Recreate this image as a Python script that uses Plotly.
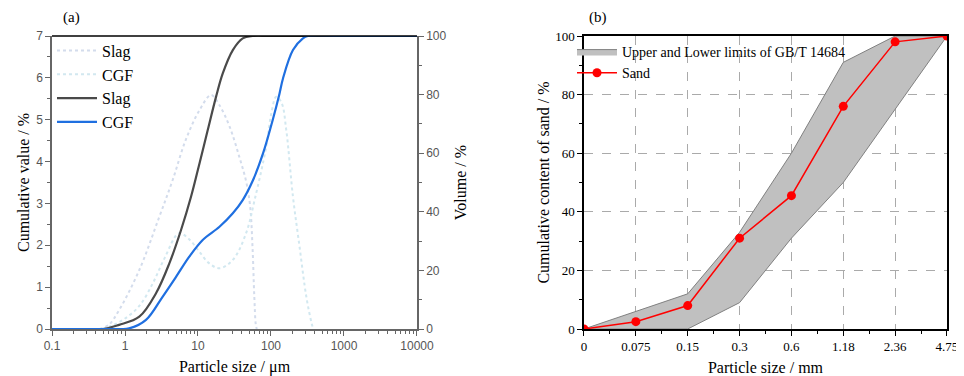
import plotly.graph_objects as go

# ---------------- Panel (a) data ----------------
slag_cum_size = [0.1, 0.5, 0.83, 1.57, 2.66, 4.05, 5.86, 8.04, 10.5, 13.6, 17.7, 21.9, 30, 41, 56, 100, 10000]
slag_cum_val = [0, 0, 1.4, 4.2, 12.2, 22.4, 33.8, 45.2, 56.6, 67.9, 79.3, 87.3, 95.2, 99.2, 100, 100, 100]

cgf_cum_size = [0.1, 0.8, 1.14, 1.94, 3.27, 5.0, 7.6, 11.6, 19.7, 30, 41, 56, 78, 106, 131, 146, 200, 274, 320, 1000, 10000]
cgf_cum_val = [0, 0, 0.2, 3.1, 11.0, 17.8, 24.7, 30.4, 34.9, 39.5, 44.0, 50.5, 60.0, 71.5, 80.4, 85.5, 95.2, 99.2, 100, 100, 100]

slag_dist_size = [0.45, 0.6, 0.83, 1.57, 2.95, 4.5, 6.8, 10.5, 15.1, 19.6, 26.9, 37, 46, 52, 56, 59, 62, 64]
slag_dist_val = [0, 0.1, 0.45, 1.41, 2.68, 3.56, 4.52, 5.23, 5.59, 5.35, 4.85, 4.1, 3.5, 2.9, 1.9, 0.8, 0.1, 0]

cgf_dist_size = [0.5, 0.7, 1.0, 1.57, 2.4, 3.5, 5.5, 7.5, 10.4, 14, 19.7, 30, 45.6, 60, 86, 101, 118, 140, 162, 200, 246, 305, 360, 380]
cgf_dist_val = [0, 0.1, 0.25, 0.55, 1.09, 1.7, 2.29, 2.15, 1.85, 1.58, 1.45, 1.65, 2.29, 3.1, 4.35, 5.15, 5.55, 5.4, 4.75, 3.16, 1.97, 0.77, 0.14, 0]

a_xtick_vals = [0.1, 1, 10, 100, 1000, 10000]
a_xtick_text = ["0.1", "1", "10", "100", "1000", "10000"]

# ---------------- Panel (b) data ----------------
sieve_labels = ["0", "0.075", "0.15", "0.3", "0.6", "1.18", "2.36", "4.75"]
upper_limit = [0, 6, 12, 33, 60, 91, 100, 100]
lower_limit = [0, 0, 0, 9, 31, 50, 75, 100]
sand_values = [0, 2.5, 8, 31, 45.5, 76, 98, 100]

pos = list(range(len(sieve_labels)))

SERIF = "Liberation Serif"
SANS = "Liberation Sans"
GRAY_AX = "#666666"

fig = go.Figure()

# Panel (a) distributions (left axis)
fig.add_trace(go.Scatter(x=slag_dist_size, y=slag_dist_val, mode="lines", name="Slag",
                         line=dict(color="#d3dcec", width=2, dash="dot"),
                         xaxis="x", yaxis="y", legend="legend", line_shape="spline"))
fig.add_trace(go.Scatter(x=cgf_dist_size, y=cgf_dist_val, mode="lines", name="CGF",
                         line=dict(color="#d2e8f0", width=2, dash="dot"),
                         xaxis="x", yaxis="y", legend="legend", line_shape="spline"))
# Panel (a) cumulative (right axis)
fig.add_trace(go.Scatter(x=slag_cum_size, y=slag_cum_val, mode="lines", name="Slag",
                         line=dict(color="#4a4a4a", width=2.2),
                         xaxis="x", yaxis="y2", legend="legend", line_shape="spline"))
fig.add_trace(go.Scatter(x=cgf_cum_size, y=cgf_cum_val, mode="lines", name="CGF",
                         line=dict(color="#1f6fe0", width=2.2),
                         xaxis="x", yaxis="y2", legend="legend", line_shape="spline"))

# Panel (b) band
band_x = pos + pos[::-1]
band_y = upper_limit + lower_limit[::-1]
fig.add_trace(go.Scatter(x=band_x, y=band_y, mode="lines", fill="toself",
                         fillcolor="#c0c0c0", line=dict(color="#808080", width=1),
                         name="Upper and Lower limits of GB/T 14684",
                         xaxis="x2", yaxis="y3", legend="legend2"))
fig.add_trace(go.Scatter(x=pos, y=sand_values, mode="lines+markers", name="Sand",
                         line=dict(color="#ff0000", width=1.5),
                         marker=dict(color="#ff0000", size=9),
                         xaxis="x2", yaxis="y3", legend="legend2"))

dom_a = [0, 0.4078]
dom_b = [0.5944, 1]

# page body has an 8px margin, so the figure is 8px smaller and offset
fig.update_layout(
    width=956, height=368,
    margin=dict(l=44, r=17, t=28, b=47),
    paper_bgcolor="white", plot_bgcolor="white",
    font=dict(family=SERIF, color="black"),
    xaxis=dict(domain=dom_a, type="log", range=[-1, 4], anchor="y", automargin=False,
               tickvals=a_xtick_vals, ticktext=a_xtick_text,
               tickfont=dict(family=SANS, size=12, color="#555555"),
               ticks="outside", ticklen=5, tickcolor=GRAY_AX,
               minor=dict(ticks="outside", ticklen=3, tickcolor=GRAY_AX, dtick="D1", showgrid=False),
               showline=True, linecolor=GRAY_AX, linewidth=1.5, showgrid=False, zeroline=False,
               title=dict(text="Particle size / μm", font=dict(family=SERIF, size=16), standoff=10)),
    yaxis=dict(domain=[0, 1], range=[0, 7], anchor="x", dtick=1, automargin=False,
               tickfont=dict(family=SANS, size=12, color="#555555"),
               ticks="outside", ticklen=5, tickcolor=GRAY_AX,
               minor=dict(ticks="outside", ticklen=3, tickcolor=GRAY_AX, dtick=0.5, showgrid=False),
               showline=True, linecolor=GRAY_AX, linewidth=1.5, showgrid=False, zeroline=False,
               title=dict(text="Cumulative value / %", font=dict(family=SERIF, size=16), standoff=3)),
    yaxis2=dict(overlaying="y", side="right", anchor="x", range=[0, 100], dtick=20, automargin=False,
                tickfont=dict(family=SANS, size=12, color="#555555"),
                ticks="outside", ticklen=5, tickcolor=GRAY_AX,
                minor=dict(ticks="outside", ticklen=3, tickcolor=GRAY_AX, dtick=10, showgrid=False),
                showline=True, linecolor=GRAY_AX, linewidth=1.5, showgrid=False, zeroline=False,
                title=dict(text="Volume / %", font=dict(family=SERIF, size=16), standoff=9)),
    xaxis2=dict(domain=dom_b, range=[0, len(sieve_labels) - 1], anchor="y3", automargin=False,
                tickvals=pos, ticktext=sieve_labels,
                tickfont=dict(family=SERIF, size=13, color="black"),
                ticks="outside", ticklen=5, tickcolor="black",
                minor=dict(ticks="outside", ticklen=3, tickcolor="black", dtick=0.5, tick0=0, showgrid=False),
                showline=True, linecolor="black", linewidth=1.5, mirror=True,
                showgrid=True, gridcolor="#aaaaaa", griddash="dash", gridwidth=1, zeroline=False,
                title=dict(text="Particle size / mm", font=dict(family=SERIF, size=16), standoff=12)),
    yaxis3=dict(domain=[0, 1], range=[0, 100], anchor="x2", dtick=20, automargin=False,
                tickfont=dict(family=SERIF, size=13, color="black"),
                ticks="outside", ticklen=5, tickcolor="black",
                minor=dict(ticks="outside", ticklen=3, tickcolor="black", dtick=10, showgrid=False),
                showline=True, linecolor="black", linewidth=1.5, mirror=True,
                showgrid=True, gridcolor="#aaaaaa", griddash="dash", gridwidth=1, zeroline=False,
                title=dict(text="Cumulative content of sand / %", font=dict(family=SERIF, size=16), standoff=2)),
    legend=dict(x=0.0, y=1.008, xanchor="left", yanchor="top",
                bgcolor="rgba(0,0,0,0)", font=dict(family=SERIF, size=16, color="black"),
                tracegroupgap=0, itemwidth=40),
    legend2=dict(x=0.581, y=1.0, xanchor="left", yanchor="top",
                 bgcolor="rgba(0,0,0,0)", font=dict(family=SERIF, size=14, color="black"),
                 tracegroupgap=4, itemwidth=40),
    shapes=[dict(type="line", xref="x domain", yref="y domain", x0=0, x1=1, y0=1, y1=1,
                 line=dict(color="black", width=1.5))],
    annotations=[
        dict(text="(a)", xref="paper", yref="paper", x=0.01, y=1.0, yshift=19,
             xanchor="left", yanchor="middle", showarrow=False, font=dict(family=SERIF, size=15)),
        dict(text="(b)", xref="paper", yref="paper", x=0.598, y=1.0, yshift=19,
             xanchor="left", yanchor="middle", showarrow=False, font=dict(family=SERIF, size=15)),
    ],
    showlegend=True,
)

fig.write_html("out.html")
